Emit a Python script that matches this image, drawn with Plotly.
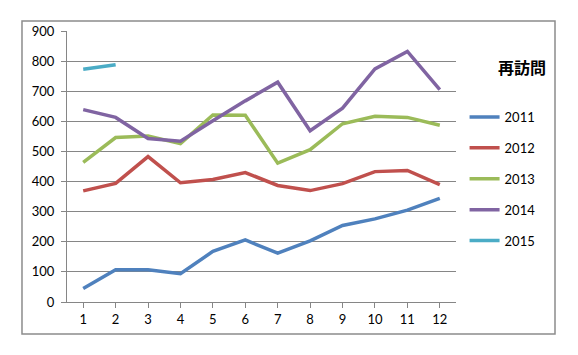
import plotly.graph_objects as go

months = [1, 2, 3, 4, 5, 6, 7, 8, 9, 10, 11, 12]
s2011 = [45, 107, 107, 94, 168, 206, 162, 203, 254, 276, 305, 344]
s2012 = [369, 394, 483, 396, 407, 430, 387, 370, 393, 433, 437, 390]
s2013 = [464, 546, 551, 526, 621, 620, 461, 506, 592, 617, 613, 587]
s2014 = [639, 613, 543, 534, 602, 668, 730, 569, 644, 774, 832, 705]
s2015 = [773, 788]
series_names = ["2011", "2012", "2013", "2014", "2015"]
colors = ["#4F81BD", "#C0504D", "#9BBB59", "#8064A2", "#4BACC6"]
legend_title = "再訪問"
yticks = [0, 100, 200, 300, 400, 500, 600, 700, 800, 900]

fig = go.Figure()
for name, vals, col in zip(series_names, [s2011, s2012, s2013, s2014, s2015], colors):
    fig.add_trace(go.Scatter(
        x=months[:len(vals)], y=vals, name=name, mode="lines",
        line=dict(color=col, width=3.5), legendgroup=name,
    ))

fig.update_layout(
    width=570, height=347,
    margin=dict(l=59, r=122, t=23, b=53),
    paper_bgcolor="white", plot_bgcolor="white",
    font=dict(family="Lato, 'Liberation Sans', sans-serif", size=13, color="#000"),
    showlegend=True,
    legend=dict(x=1.022, y=0.738, xanchor="left", yanchor="top",
                traceorder="grouped", tracegroupgap=11,
                font=dict(size=13), itemwidth=30),
    xaxis=dict(range=[0.5, 12.5], tickmode="array", tickvals=months,
               ticks="outside", tickson="boundaries", ticklen=5,
               tickcolor="#868686", showgrid=False, showline=True,
               linecolor="#868686", linewidth=1, zeroline=False, fixedrange=True),
    yaxis=dict(range=[0, 900], tickmode="array", tickvals=yticks,
               ticks="outside", ticklen=5, tickcolor="#868686",
               showgrid=True, gridcolor="#868686", gridwidth=1,
               showline=True, linecolor="#868686", linewidth=1,
               zeroline=False, ticklabelstandoff=4),
    shapes=[dict(type="rect", xref="paper", yref="paper",
                 x0=-0.1157, x1=1.2545, y0=-0.118, y1=1.037,
                 line=dict(color="#8c8c8c", width=1.5), fillcolor="rgba(0,0,0,0)")],
    annotations=[dict(text="<b>" + legend_title + "</b>", xref="paper", yref="paper",
                      x=1.17, y=0.867, xanchor="center", yanchor="middle",
                      showarrow=False,
                      font=dict(family="'Noto Sans CJK JP'", size=16, color="#000"))],
)

fig.write_html("out.html")
